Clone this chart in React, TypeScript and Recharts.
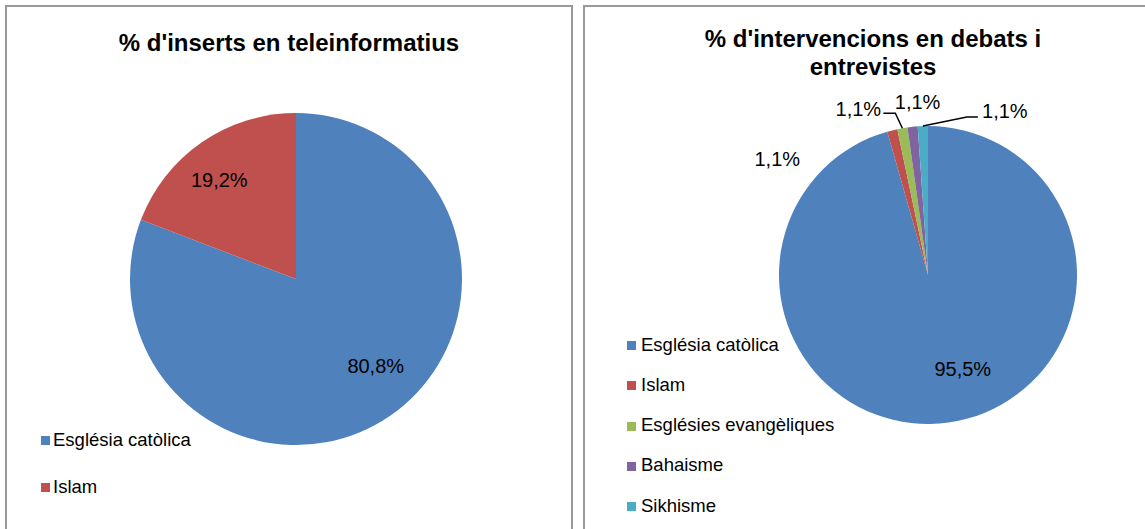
import { PieChart, Pie, Cell } from 'recharts'

// chart 1: inserts en teleinformatius
const insertCategories = ['Església catòlica', 'Islam']
const insertValues = [80.8, 19.2]

// chart 2: intervencions en debats i entrevistes
const debateCategories = ['Església catòlica', 'Islam', 'Esglésies evangèliques', 'Bahaisme', 'Sikhisme']
const debateValues = [95.5, 1.1, 1.1, 1.1, 1.1]

const colors = ['#4F81BD', '#C0504D', '#9BBB59', '#8064A2', '#4BACC6']

const insertData = insertCategories.map((name, i) => ({ name, value: insertValues[i] }))
const debateData = debateCategories.map((name, i) => ({ name, value: debateValues[i] }))

const FONT = '"Liberation Sans", Arial, sans-serif'
const RAD = Math.PI / 180
const fmt = (v: number) => v.toFixed(1).replace('.', ',') + '%'

// label placement (offsets from the point the library gives us)
const insertNudge = [[11, -13], [-8, 1]]

type LabelLayout = { dx: number, dy: number, inside?: boolean, line?: number[][] }
const debateLayout: LabelLayout[] = [
  { dx: 21, dy: -5, inside: true },
  { dx: -115, dy: 29 },
  { dx: -44, dy: -19, line: [[-7, -15], [-19, -15]] },
  { dx: 5, dy: -25 },
  { dx: 82, dy: -15, line: [[44, -9], [55, -9]] },
]

function polar(p: any, r: number) {
  return [p.cx + r * Math.cos(-p.midAngle * RAD), p.cy + r * Math.sin(-p.midAngle * RAD)]
}

function insertLabel(p: any) {
  const [x, y] = polar(p, p.outerRadius * 0.73)
  const n = insertNudge[p.index]
  return (
    <text x={x + n[0]} y={y + n[1]} textAnchor="middle" dominantBaseline="central" fontSize={20} fontFamily={FONT} fill="#000">
      {fmt(p.value)}
    </text>
  )
}

function debateLabel(p: any) {
  const l = debateLayout[p.index]
  if (l.inside) {
    const [x, y] = polar(p, p.outerRadius * 0.67)
    return (
      <text x={x + l.dx} y={y + l.dy} textAnchor="middle" dominantBaseline="central" fontSize={20} fontFamily={FONT} fill="#000">
        {fmt(p.value)}
      </text>
    )
  }
  const [ax, ay] = polar(p, p.outerRadius)
  return (
    <g>
      {l.line && (
        <polyline
          points={[[0, 0], ...l.line].map(([dx, dy]) => `${ax + dx},${ay + dy}`).join(' ')}
          fill="none" stroke="#000" strokeWidth={1.5}
        />
      )}
      <text x={ax + l.dx} y={ay + l.dy} textAnchor="middle" dominantBaseline="central" fontSize={20} fontFamily={FONT} fill="#000">
        {fmt(p.value)}
      </text>
    </g>
  )
}

function LegendBox({ names, left, top, gap, textOffset }: { names: string[], left: number, top: number, gap: number, textOffset: number }) {
  return (
    <>
      {names.map((name, i) => (
        <div key={name} style={{ position: 'absolute', left, top: top + i * gap, height: 20, lineHeight: '20px', fontSize: 18.5, whiteSpace: 'nowrap', color: '#000' }}>
          <span style={{ position: 'absolute', left: 0, top: 6.5, width: 9, height: 9, background: colors[i] }} />
          <span style={{ position: 'absolute', left: textOffset, top: 0 }}>{name}</span>
        </div>
      ))}
    </>
  )
}

const panel = { position: 'absolute' as const, top: 5, height: 560, boxSizing: 'border-box' as const, border: '2px solid #999', background: '#fff' }
const title = { position: 'absolute' as const, textAlign: 'center' as const, fontSize: 24, fontWeight: 'bold' as const, lineHeight: '28px', color: '#000' }

export default function App() {
  return (
    <div style={{ position: 'absolute', left: 0, top: 0, width: 1145, height: 529, overflow: 'hidden', background: '#fff', fontFamily: FONT }}>
      <div style={{ ...panel, left: 5, width: 568 }} />
      <div style={{ ...panel, left: 583, width: 600 }} />

      <div style={{ ...title, left: 5, width: 568, top: 29 }}>% d'inserts en teleinformatius</div>
      <div style={{ ...title, left: 583, width: 580, top: 25 }}>% d'intervencions en debats i<br />entrevistes</div>

      <div style={{ position: 'absolute', left: 0, top: 0 }}>
        <PieChart width={578} height={529} margin={{ top: 0, right: 0, bottom: 0, left: 0 }}>
          <Pie data={insertData} dataKey="value" nameKey="name" cx={296} cy={279} outerRadius={166}
            startAngle={90} endAngle={-270} stroke="none" label={insertLabel} labelLine={false} isAnimationActive={false}>
            {insertData.map((d, i) => <Cell key={d.name} fill={colors[i]} />)}
          </Pie>
        </PieChart>
      </div>

      <div style={{ position: 'absolute', left: 578, top: 0 }}>
        <PieChart width={567} height={529} margin={{ top: 0, right: 0, bottom: 0, left: 0 }}>
          <Pie data={debateData} dataKey="value" nameKey="name" cx={350} cy={275} outerRadius={149}
            startAngle={90} endAngle={-270} stroke="none" label={debateLabel} labelLine={false} isAnimationActive={false}>
            {debateData.map((d, i) => <Cell key={d.name} fill={colors[i]} />)}
          </Pie>
        </PieChart>
      </div>

      <LegendBox names={insertCategories} left={41} top={429.6} gap={47} textOffset={12} />
      <LegendBox names={debateCategories} left={627} top={334.6} gap={40.25} textOffset={14} />
    </div>
  )
}
